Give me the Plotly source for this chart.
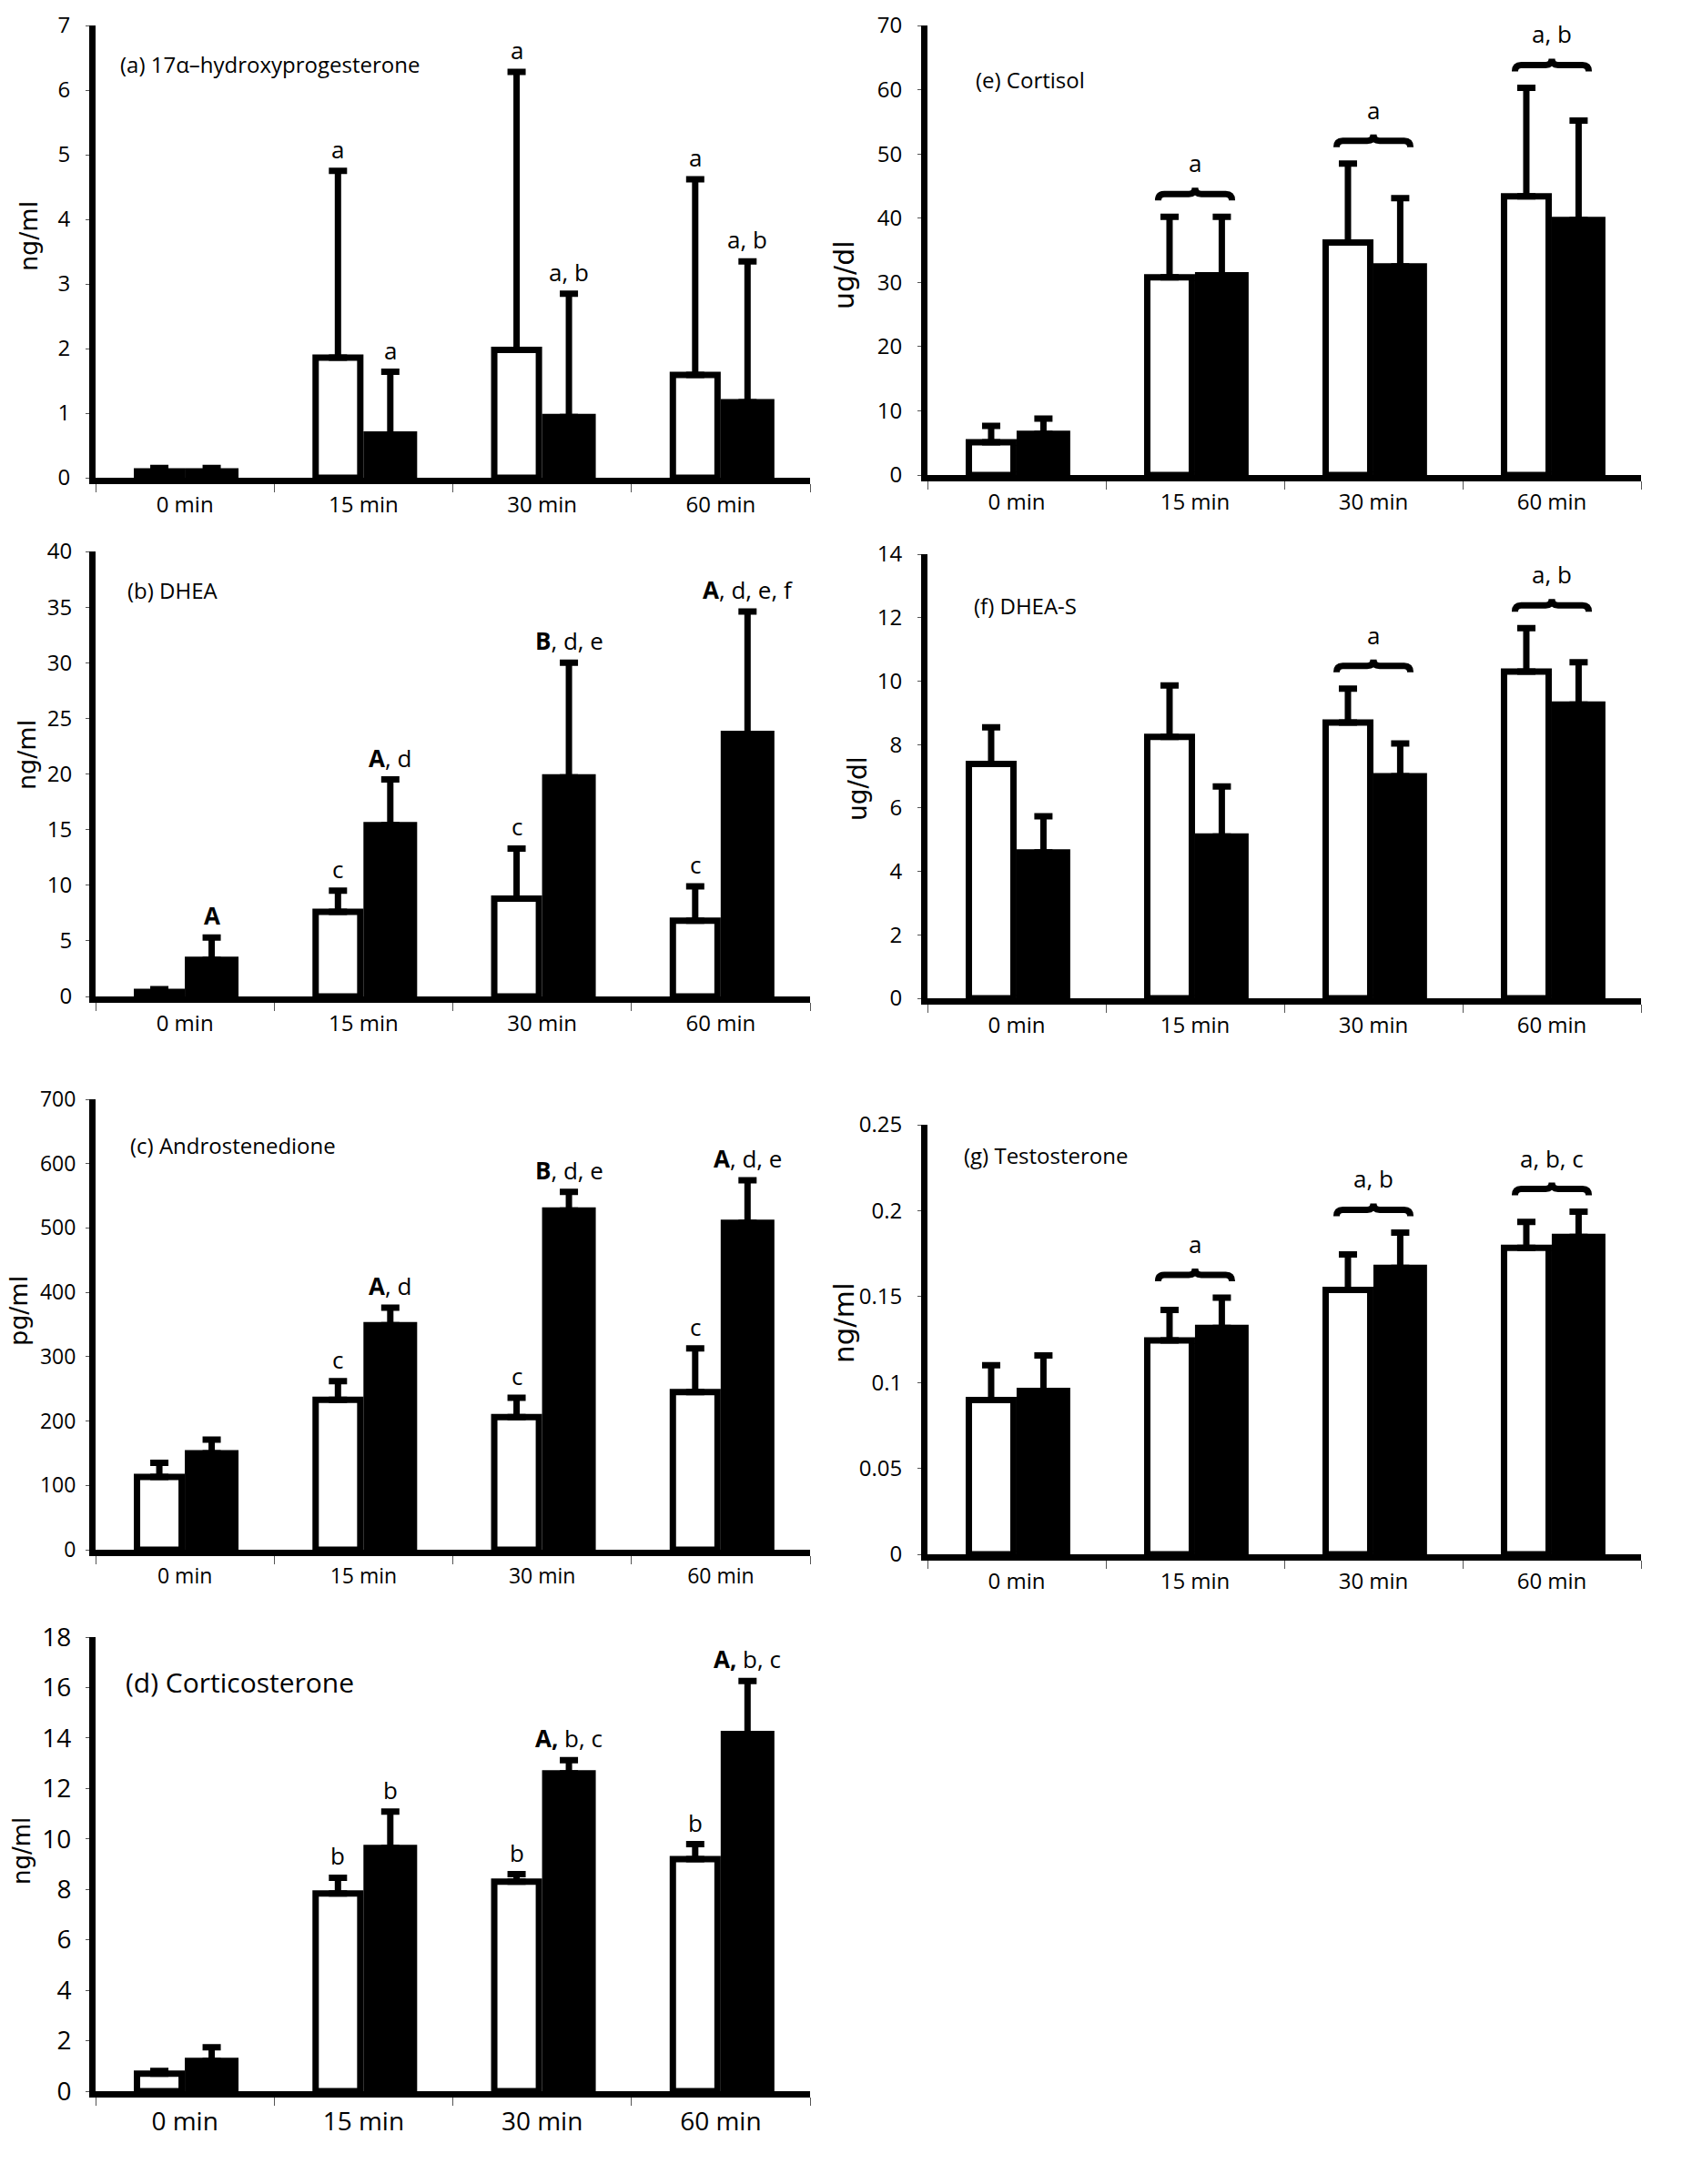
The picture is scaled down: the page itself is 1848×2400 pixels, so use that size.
import plotly.graph_objects as go

W, H = 1848, 2400

categories = ["0 min", "15 min", "30 min", "60 min"]

# (a) 17a-hydroxyprogesterone (ng/ml)
ohp_ctrl = [0.10, 1.86, 1.98, 1.59]
ohp_ctrl_err = [0.05, 2.89, 4.30, 3.03]
ohp_trt = [0.10, 0.67, 0.94, 1.17]
ohp_trt_err = [0.05, 0.97, 1.91, 2.18]
ohp_ctrl_lab = ["", "a", "a", "a"]
ohp_trt_lab = ["", "a", "a, b", "a, b"]

# (b) DHEA (ng/ml)
dhea_ctrl = [0.4, 7.6, 8.8, 6.8]
dhea_ctrl_err = [0.25, 1.9, 4.5, 3.1]
dhea_trt = [3.3, 15.4, 19.7, 23.6]
dhea_trt_err = [2.0, 4.1, 10.3, 11.0]
dhea_ctrl_lab = ["", "c", "c", "c"]
dhea_trt_lab = ["<b>A</b>", "<b>A</b>, d", "<b>B</b>, d, e", "<b>A</b>, d, e, f"]

# (c) Androstenedione (pg/ml)
andro_ctrl = [113, 233, 206, 245]
andro_ctrl_err = [22, 29, 30, 68]
andro_trt = [150, 349, 527, 508]
andro_trt_err = [21, 27, 29, 66]
andro_ctrl_lab = ["", "c", "c", "c"]
andro_trt_lab = ["", "<b>A</b>, d", "<b>B</b>, d, e", "<b>A</b>, d, e"]

# (d) Corticosterone (ng/ml)
cortico_ctrl = [0.69, 7.84, 8.31, 9.20]
cortico_ctrl_err = [0.11, 0.62, 0.29, 0.59]
cortico_trt = [1.20, 9.64, 12.60, 14.16]
cortico_trt_err = [0.54, 1.44, 0.52, 2.10]
cortico_ctrl_lab = ["", "b", "b", "b"]
cortico_trt_lab = ["", "b", "<b>A,</b> b, c", "<b>A,</b> b, c"]

# (e) Cortisol (ug/dl)
cortisol_ctrl = [5.1, 30.8, 36.2, 43.4]
cortisol_ctrl_err = [2.55, 9.4, 12.3, 16.9]
cortisol_trt = [6.4, 31.1, 32.5, 39.7]
cortisol_trt_err = [2.4, 9.1, 10.6, 15.5]
cortisol_brace_lab = ["", "a", "a", "a, b"]

# (f) DHEA-S (ug/dl)
dheas_ctrl = [7.39, 8.24, 8.69, 10.30]
dheas_ctrl_err = [1.15, 1.62, 1.07, 1.37]
dheas_trt = [4.60, 5.10, 7.00, 9.26]
dheas_trt_err = [1.14, 1.58, 1.03, 1.33]
dheas_brace_lab = ["", "", "a", "a, b"]

# (g) Testosterone (ng/ml)
testo_ctrl = [0.0898, 0.1245, 0.1539, 0.1784]
testo_ctrl_err = [0.0202, 0.0177, 0.0206, 0.0151]
testo_trt = [0.0951, 0.1318, 0.1667, 0.1847]
testo_trt_err = [0.0206, 0.0176, 0.0206, 0.0147]
testo_brace_lab = ["", "a", "a, b", "a, b, c"]

panels = [
    dict(title="(a) 17\u03b1\u2013hydroxyprogesterone", unit="ng/ml", ctrl=ohp_ctrl, ctrl_err=ohp_ctrl_err,
         trt=ohp_trt, trt_err=ohp_trt_err, ctrl_lab=ohp_ctrl_lab, trt_lab=ohp_trt_lab, brace=None,
         yr=7, dt=1, xd=(105, 890), yd=(28, 525), tpos=(130, 70), upos=(31, 260), usize=27,
         tsize=24, ksize=24, stand=12),
    dict(title="(b) DHEA", unit="ng/ml", ctrl=dhea_ctrl, ctrl_err=dhea_ctrl_err,
         trt=dhea_trt, trt_err=dhea_trt_err, ctrl_lab=dhea_ctrl_lab, trt_lab=dhea_trt_lab, brace=None,
         yr=40, dt=5, xd=(105, 890), yd=(606, 1095), tpos=(138, 648), upos=(29, 830), usize=27,
         tsize=24, ksize=24, stand=10),
    dict(title="(c) Androstenedione", unit="pg/ml", ctrl=andro_ctrl, ctrl_err=andro_ctrl_err,
         trt=andro_trt, trt_err=andro_trt_err, ctrl_lab=andro_ctrl_lab, trt_lab=andro_trt_lab, brace=None,
         yr=700, dt=100, xd=(105, 890), yd=(1208, 1703), tpos=(141, 1258), upos=(20, 1441), usize=27,
         tsize=24, ksize=23, stand=6),
    dict(title="(d) Corticosterone", unit="ng/ml", ctrl=cortico_ctrl, ctrl_err=cortico_ctrl_err,
         trt=cortico_trt, trt_err=cortico_trt_err, ctrl_lab=cortico_ctrl_lab, trt_lab=cortico_trt_lab, brace=None,
         yr=18, dt=2, xd=(105, 890), yd=(1799, 2298), tpos=(136, 1848), upos=(24, 2034), usize=26,
         tsize=30, ksize=28, stand=10),
    dict(title="(e) Cortisol", unit="ug/dl", ctrl=cortisol_ctrl, ctrl_err=cortisol_ctrl_err,
         trt=cortisol_trt, trt_err=cortisol_trt_err, ctrl_lab=None, trt_lab=None, brace=cortisol_brace_lab,
         yr=70, dt=10, xd=(1019, 1803), yd=(28, 522), tpos=(1070, 88), upos=(927, 302), usize=30,
         tsize=24, ksize=24, stand=12),
    dict(title="(f) DHEA-S", unit="ug/dl", ctrl=dheas_ctrl, ctrl_err=dheas_ctrl_err,
         trt=dheas_trt, trt_err=dheas_trt_err, ctrl_lab=None, trt_lab=None, brace=dheas_brace_lab,
         yr=14, dt=2, xd=(1019, 1803), yd=(609, 1097), tpos=(1068, 665), upos=(942, 867), usize=28,
         tsize=24, ksize=24, stand=12),
    dict(title="(g) Testosterone", unit="ng/ml", ctrl=testo_ctrl, ctrl_err=testo_ctrl_err,
         trt=testo_trt, trt_err=testo_trt_err, ctrl_lab=None, trt_lab=None, brace=testo_brace_lab,
         yr=0.25, dt=0.05, xd=(1019, 1803), yd=(1236, 1708), tpos=(1057, 1269), upos=(927, 1454), usize=31,
         tsize=24, ksize=24, stand=12),
]

FONT = "Open Sans"
fig = go.Figure()
annotations = []
shapes = []
layout = {}

BORDER = 7
W_CTRL, W_TRT = 0.25, 0.265
OFF_CTRL, OFF_TRT = -0.143, 0.15

for n, p in enumerate(panels, start=1):
    xa = "x" if n == 1 else f"x{n}"
    ya = "y" if n == 1 else f"y{n}"
    idx = list(range(len(categories)))
    fig.add_trace(go.Bar(
        x=[i + OFF_CTRL for i in idx], y=p["ctrl"], width=W_CTRL,
        marker=dict(color="white", line=dict(color="black", width=BORDER)),
        error_y=dict(type="data", symmetric=False, array=p["ctrl_err"], arrayminus=[0] * 4,
                     color="black", thickness=7, width=10),
        xaxis=xa, yaxis=ya, showlegend=False, name="control"))
    fig.add_trace(go.Bar(
        x=[i + OFF_TRT for i in idx], y=p["trt"], width=W_TRT,
        marker=dict(color="black", line=dict(color="black", width=BORDER)),
        error_y=dict(type="data", symmetric=False, array=p["trt_err"], arrayminus=[0] * 4,
                     color="black", thickness=7, width=10),
        xaxis=xa, yaxis=ya, showlegend=False, name="treated"))

    x0, x1 = p["xd"]
    y0, y1 = p["yd"]
    hpx = y1 - y0
    upp = p["yr"] / hpx  # data units per pixel
    axkey = "xaxis" if n == 1 else f"xaxis{n}"
    aykey = "yaxis" if n == 1 else f"yaxis{n}"
    ksize = p["ksize"]
    layout[axkey] = dict(
        domain=[x0 / W, x1 / W], anchor=ya, range=[-0.5, 3.5], automargin=False,
        showline=True, linewidth=7, linecolor="black", showgrid=False, zeroline=False,
        tickmode="array", tickvals=idx, ticktext=categories, ticks="",
        tickfont=dict(family=FONT, size=ksize, color="black"), ticklabelstandoff=2,
        minor=dict(tickmode="array", tickvals=[-0.5, 0.5, 1.5, 2.5, 3.5], ticks="outside",
                   ticklen=9, tickwidth=1, tickcolor="#555"),
        fixedrange=True)
    layout[aykey] = dict(
        domain=[1 - y1 / H, 1 - y0 / H], anchor=xa, range=[0, p["yr"]], dtick=p["dt"], tick0=0,
        automargin=False,
        showline=True, linewidth=7, linecolor="black", showgrid=False, zeroline=False,
        ticks="outside", ticklen=4, tickwidth=1, tickcolor="#555",
        tickfont=dict(family=FONT, size=ksize, color="black"), ticklabelstandoff=p["stand"],
        fixedrange=True)

    # panel title
    annotations.append(dict(text=p["title"], x=p["tpos"][0] / W, y=1 - p["tpos"][1] / H,
                            xref="paper", yref="paper", xanchor="left", yanchor="middle",
                            showarrow=False, font=dict(family=FONT, size=p["tsize"], color="black")))
    # unit label
    annotations.append(dict(text=p["unit"], x=p["upos"][0] / W, y=1 - p["upos"][1] / H,
                            xref="paper", yref="paper", xanchor="center", yanchor="middle",
                            textangle=-90, showarrow=False,
                            font=dict(family="DejaVu Sans", size=p["usize"], color="black")))

    # significance letters above individual bars
    if p["ctrl_lab"]:
        for i in idx:
            for lab, val, err, off in ((p["ctrl_lab"][i], p["ctrl"][i], p["ctrl_err"][i], OFF_CTRL),
                                       (p["trt_lab"][i], p["trt"][i], p["trt_err"][i], OFF_TRT)):
                if lab:
                    annotations.append(dict(text=lab, x=i + off, y=val + err, xref=xa, yref=ya,
                                            xanchor="center", yanchor="bottom", yshift=4,
                                            showarrow=False,
                                            font=dict(family=FONT, size=26, color="black")))
    # braces spanning both bars
    if p["brace"]:
        for i in idx:
            lab = p["brace"][i]
            if not lab:
                continue
            top = max(p["ctrl"][i] + p["ctrl_err"][i], p["trt"][i] + p["trt_err"][i])
            yb = top + 25 * upp
            d = 7 * upp
            hw = 0.207
            e = 0.035
            xl, xc, xr = i - hw, i, i + hw
            path = (f"M {xl},{yb - d} Q {xl},{yb} {xl + e},{yb} L {xc - e},{yb} "
                    f"Q {xc},{yb} {xc},{yb + d} Q {xc},{yb} {xc + e},{yb} "
                    f"L {xr - e},{yb} Q {xr},{yb} {xr},{yb - d}")
            shapes.append(dict(type="path", path=path, xref=xa, yref=ya,
                               line=dict(color="black", width=7)))
            annotations.append(dict(text=lab, x=i, y=yb, xref=xa, yref=ya,
                                    xanchor="center", yanchor="bottom", yshift=14,
                                    showarrow=False, font=dict(family=FONT, size=26, color="black")))

fig.update_layout(
    template="none",
    width=W, height=H, margin=dict(l=0, r=0, t=0, b=0, pad=0, autoexpand=False),
    paper_bgcolor="white", plot_bgcolor="white",
    barmode="overlay", showlegend=False,
    annotations=annotations, shapes=shapes,
    font=dict(family=FONT, color="black"),
    **layout)

fig.write_html("out.html", config={"displayModeBar": False},
               post_script="document.body.style.margin='0';")
